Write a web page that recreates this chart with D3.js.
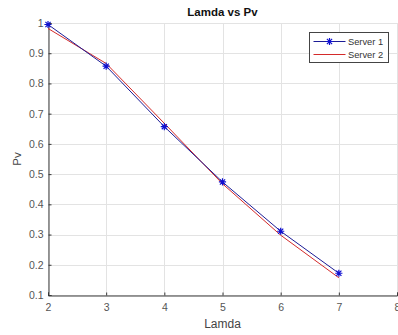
<!DOCTYPE html>
<html>
<head>
<meta charset="utf-8">
<script src="https://cdn.jsdelivr.net/npm/d3@7"></script>
<style>
  body { margin: 0; background: #fff; }
  text { font-family: "Liberation Sans", Arial, sans-serif; }
</style>
</head>
<body>
<div id="canvas"></div>
<script>
var lamda = [2, 3, 4, 5, 6, 7];
var server1 = [0.995, 0.857, 0.657, 0.474, 0.311, 0.172];
var server2 = [0.982, 0.866, 0.668, 0.468, 0.298, 0.157];
var xTicks = [2, 3, 4, 5, 6, 7, 8];
var yTicks = [0.1, 0.2, 0.3, 0.4, 0.5, 0.6, 0.7, 0.8, 0.9, 1];
var seriesNames = ["Server 1", "Server 2"];

var width = 398,
  height = 335;
var margin = { top: 23, right: 1, bottom: 40, left: 48 };

var svg = d3
  .select("#canvas")
  .append("svg")
  .attr("width", width)
  .attr("height", height);

var x = d3.scaleLinear().domain([2, 8]).range([margin.left, width - margin.right]);
var y = d3.scaleLinear().domain([0.1, 1]).range([height - margin.bottom, margin.top]);

// grid
var grid = svg.append("g").style("stroke", "#e3e3e3").style("stroke-width", 1);
grid
  .selectAll("line.gx")
  .data(xTicks)
  .enter()
  .append("line")
  .attr("x1", d => Math.round(x(d)) + 0.5)
  .attr("x2", d => Math.round(x(d)) + 0.5)
  .attr("y1", y(1))
  .attr("y2", y(0.1));
grid
  .selectAll("line.gy")
  .data(yTicks)
  .enter()
  .append("line")
  .attr("x1", x(2))
  .attr("x2", x(8))
  .attr("y1", d => Math.round(y(d)) + 0.5)
  .attr("y2", d => Math.round(y(d)) + 0.5);

// axes
var xAxis = svg
  .append("g")
  .attr("transform", "translate(0," + (Math.round(y(0.1)) + 0.5) + ")")
  .call(d3.axisBottom(x).tickValues(xTicks).tickSize(-3).tickPadding(8).tickFormat(d3.format("d")));
var yAxis = svg
  .append("g")
  .attr("transform", "translate(" + (Math.round(x(2)) + 0.5) + ",0)")
  .call(d3.axisLeft(y).tickValues(yTicks).tickSize(-3).tickPadding(5).tickFormat(d => d === 1 ? "1" : d3.format(".1f")(d)));

[xAxis, yAxis].forEach(function(a) {
  a.select(".domain").attr("stroke", "#3a3a3a");
  a.selectAll(".tick line").attr("stroke", "#3a3a3a");
  a.selectAll(".tick text")
    .attr("fill", "#555")
    .style("font-size", "10.5px")
    .style("font-family", "Liberation Sans, Arial, sans-serif");
});

// lines
var line = d3
  .line()
  .x((d, i) => x(lamda[i]))
  .y(d => y(d));

svg
  .append("path")
  .datum(server2)
  .attr("d", line)
  .attr("fill", "none")
  .attr("stroke", "#d42a2a")
  .attr("stroke-width", 1);

svg
  .append("path")
  .datum(server1)
  .attr("d", line)
  .attr("fill", "none")
  .attr("stroke", "#1c1c96")
  .attr("stroke-width", 1);

function star(cx, cy, r) {
  var d = r * 0.72;
  return (
    "M" + (cx - r) + "," + cy + "H" + (cx + r) +
    "M" + cx + "," + (cy - r) + "V" + (cy + r) +
    "M" + (cx - d) + "," + (cy - d) + "L" + (cx + d) + "," + (cy + d) +
    "M" + (cx - d) + "," + (cy + d) + "L" + (cx + d) + "," + (cy - d)
  );
}

svg
  .append("g")
  .selectAll("path")
  .data(server1)
  .enter()
  .append("path")
  .attr("d", (d, i) => star(x(lamda[i]), y(d), 3.6))
  .attr("stroke", "#1010d0")
  .attr("stroke-width", 1.2)
  .attr("fill", "none");

// title and labels
svg
  .append("text")
  .attr("x", (x(2) + x(8)) / 2)
  .attr("y", 16)
  .attr("text-anchor", "middle")
  .style("font-size", "11.5px")
  .style("font-weight", "bold")
  .style("fill", "#111")
  .text("Lamda vs Pv");

svg
  .append("text")
  .attr("x", (x(2) + x(8)) / 2)
  .attr("y", 328)
  .attr("text-anchor", "middle")
  .style("font-size", "12px")
  .style("fill", "#444")
  .text("Lamda");

svg
  .append("text")
  .attr("transform", "translate(21," + (y(0.55)) + ") rotate(-90)")
  .attr("text-anchor", "middle")
  .style("font-size", "11.5px")
  .style("fill", "#444")
  .text("Pv");

// legend
var legend = svg.append("g").attr("transform", "translate(309.5,32.5)");
legend
  .append("rect")
  .attr("width", 79)
  .attr("height", 30)
  .attr("fill", "#fff")
  .attr("stroke", "#444")
  .attr("stroke-width", 1);

var colors = ["#1c1c96", "#d42a2a"];
seriesNames.forEach(function(name, i) {
  var ly = 9 + i * 13;
  legend
    .append("line")
    .attr("x1", 4)
    .attr("x2", 36)
    .attr("y1", ly)
    .attr("y2", ly)
    .attr("stroke", colors[i])
    .attr("stroke-width", 1);
  if (i === 0) {
    legend
      .append("path")
      .attr("d", star(20, ly, 3.6))
      .attr("stroke", "#1010d0")
      .attr("stroke-width", 1.2)
      .attr("fill", "none");
  }
  legend
    .append("text")
    .attr("x", 38.5)
    .attr("y", ly + 3.5)
    .style("font-size", "9.3px")
    .style("fill", "#333")
    .text(name);
});
</script>
</body>
</html>
